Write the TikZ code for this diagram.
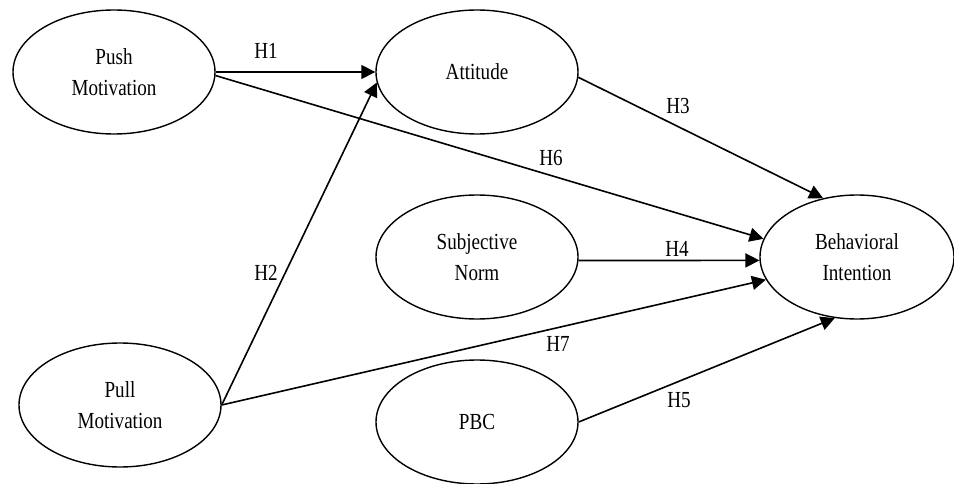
\documentclass[tikz,border=0pt]{standalone}
\usepackage{fontspec}
\setmainfont[FakeStretch=0.83]{Liberation Serif}
\usetikzlibrary{shapes.geometric,arrows.meta}
\begin{document}
\begin{tikzpicture}[x=1pt,y=-1pt,
  construct/.style={ellipse,draw,line width=1.4pt,minimum width=202pt,
    minimum height=124pt,inner sep=0pt,align=center,
    font=\fontsize{23}{31}\selectfont},
  hyp/.style={line width=1.6pt,-{Triangle[length=14pt,width=14pt]}},
  hlabel/.style={font=\fontsize{23}{31}\selectfont,inner sep=0pt}]
\useasboundingbox (0,0) rectangle (954,484);

% constructs
\node[construct] (push) at (114,72) {Push\\Motivation};
\node[construct] (pull) at (120,405) {Pull\\Motivation};
\node[construct] (att) at (477,72) {Attitude};
\node[construct] (sn) at (477,257) {Subjective\\Norm};
\node[construct] (pbc) at (477,422) {PBC};
\node[construct,minimum width=194pt] (bi) at (857,257) {Behavioral\\Intention};

% hypothesised paths
\draw[hyp] (push.east) -- (att.west);
\draw[hyp] (push.358) -- (bi.169);
\draw[hyp] (pull.east) -- (att.186);
\draw[hyp] (pull.east) -- (bi.194);
\draw[hyp] (att.357) -- (bi.120);
\draw[hyp] (sn.358) -- (bi.182);
\draw[hyp] (pbc.east) -- (bi.250);

% path labels
\node[hlabel] (h1) at (266,51) {H1};
\node[hlabel] (h2) at (266,273) {H2};
\node[hlabel] (h3) at (678,106) {H3};
\node[hlabel] (h4) at (677,249) {H4};
\node[hlabel] (h5) at (679,400) {H5};
\node[hlabel] (h6) at (551,158) {H6};
\node[hlabel] (h7) at (558,344) {H7};
\end{tikzpicture}
\end{document}
